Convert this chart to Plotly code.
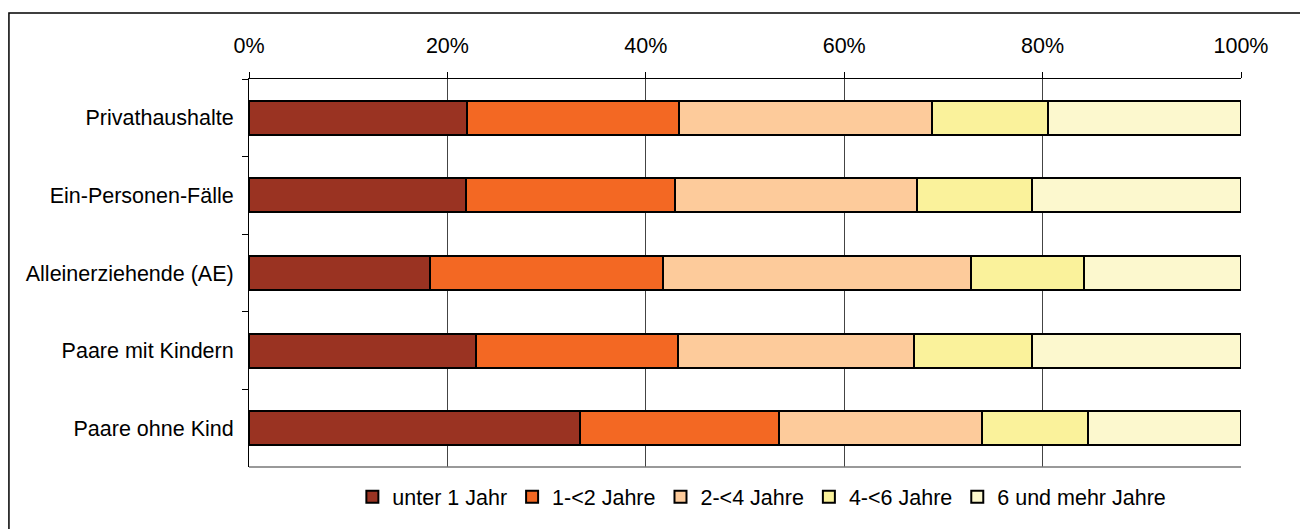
import plotly.graph_objects as go

categories = ["Privathaushalte", "Ein-Personen-Fälle", "Alleinerziehende (AE)",
              "Paare mit Kindern", "Paare ohne Kind"]
series_names = ["unter 1 Jahr", "1-<2 Jahre", "2-<4 Jahre", "4-<6 Jahre", "6 und mehr Jahre"]
unter_1 = [22.0, 21.9, 18.2, 22.9, 33.4]
j1_2 = [21.3, 21.0, 23.5, 20.3, 20.0]
j2_4 = [25.6, 24.4, 31.1, 23.8, 20.5]
j4_6 = [11.6, 11.6, 11.4, 11.9, 10.7]
j6_plus = [19.5, 21.1, 15.8, 21.1, 15.4]
colors = ["#9A3322", "#F36823", "#FDCB9B", "#FAF29B", "#FCF8CE"]
tick_vals = [0, 20, 40, 60, 80, 100]
tick_text = ["0%", "20%", "40%", "60%", "80%", "100%"]

FONT = "Liberation Sans, Arial, sans-serif"

fig = go.Figure()
for name, vals, col in zip(series_names, [unter_1, j1_2, j2_4, j4_6, j6_plus], colors):
    fig.add_trace(go.Bar(
        x=vals, y=categories, orientation="h", name=name,
        marker=dict(color=col, line=dict(color="black", width=2)),
        hovertemplate="%{y}: %{x:.1f}%<extra>" + name + "</extra>",
    ))

fig.update_layout(
    barmode="stack",
    bargap=0.56,
    width=1300, height=521,
    margin=dict(l=241, r=67, t=71, b=62),
    paper_bgcolor="white", plot_bgcolor="white",
    font=dict(family=FONT, size=21.5, color="black"),
    legend=dict(orientation="h", x=0.517, xanchor="center", y=-0.077, yanchor="middle",
                font=dict(size=21.5), itemwidth=30, tracegroupgap=0, traceorder="normal",
                bgcolor="rgba(0,0,0,0)"),
    xaxis=dict(side="top", range=[0, 100], tickvals=tick_vals, ticktext=tick_text,
               showgrid=True, gridcolor="#444444", gridwidth=1,
               showline=True, linecolor="black", linewidth=1,
               ticks="outside", ticklen=6, tickcolor="black",
               ticklabelstandoff=10, zeroline=False, fixedrange=True),
    yaxis=dict(categoryorder="array", categoryarray=categories, autorange="reversed",
               showgrid=False, showline=True, linecolor="black", linewidth=1,
               ticks="outside", ticklen=6, tickcolor="black", tickson="boundaries",
               ticklabelstandoff=10, fixedrange=True),
    shapes=[
        dict(type="line", xref="paper", yref="paper", x0=0, x1=1, y0=0, y1=0,
             line=dict(color="#777777", width=1.5)),
        dict(type="rect", xref="paper", yref="paper", x0=-0.2420, x1=1.2, y0=-0.4, y1=1.170,
             line=dict(color="black", width=1.5), layer="below"),
    ],
)

fig.write_html("out.html")
